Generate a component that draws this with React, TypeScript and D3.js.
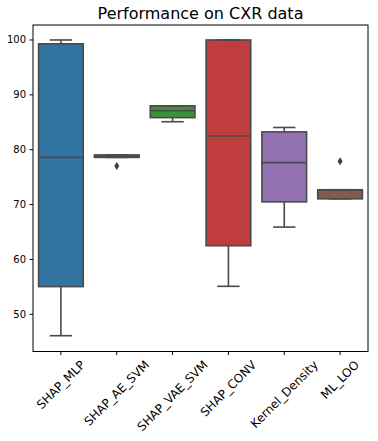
import React, { useEffect, useRef } from "react";
import * as d3 from "d3";

const categories = ["SHAP_MLP", "SHAP_AE_SVM", "SHAP_VAE_SVM", "SHAP_CONV", "Kernel_Density", "ML_LOO"];
const whiskerLow = [46.1, 78.6, 85.1, 55.1, 65.9, 71.05];
const q1 = [55.05, 78.6, 85.85, 62.5, 70.5, 71.05];
const median = [78.6, 78.8, 87.1, 82.5, 77.65, 72.7];
const q3 = [99.3, 79.05, 88.0, 100.0, 83.25, 72.7];
const whiskerHigh = [100.0, 79.05, 88.0, 100.0, 84.05, 72.7];
const outliers: number[][] = [[], [77.05], [], [], [], [77.9]];
const colors = ["#3274a1", "#e1812c", "#3a923a", "#c03d3e", "#9372b2", "#845b53"];
const yTicks = [50, 60, 70, 80, 90, 100];
const title = "Performance on CXR data";

export default function App() {
  const ref = useRef<SVGSVGElement>(null);
  useEffect(() => {
    const svg = d3.select(ref.current);
    svg.selectAll("*").remove();
    const L = 33, R = 368, T = 25, B = 351.5;
    const font = "DejaVu Sans, sans-serif";
    const x = d3.scaleBand<string>().domain(categories).range([L, R]).paddingInner(0).paddingOuter(0);
    const y = d3.scaleLinear().domain([43.22, 102.73]).range([B, T]);
    const bw = x.bandwidth() * 0.8;
    const line = "#4a4a4a";
    const sw = 1.6;

    svg.append("rect").attr("width", 378).attr("height", 441).attr("fill", "#fff");

    categories.forEach((c, i) => {
      const cx = x(c)! + x.bandwidth() / 2;
      const g = svg.append("g");
      g.append("line").attr("x1", cx).attr("x2", cx).attr("y1", y(q3[i])).attr("y2", y(whiskerHigh[i]))
        .attr("stroke", line).attr("stroke-width", sw);
      g.append("line").attr("x1", cx).attr("x2", cx).attr("y1", y(q1[i])).attr("y2", y(whiskerLow[i]))
        .attr("stroke", line).attr("stroke-width", sw);
      g.append("rect").attr("x", cx - bw / 2).attr("width", bw)
        .attr("y", y(q3[i])).attr("height", Math.max(0.5, y(q1[i]) - y(q3[i])))
        .attr("fill", colors[i]).attr("stroke", line).attr("stroke-width", sw);
      [whiskerHigh[i], whiskerLow[i]].forEach((v) => {
        g.append("line").attr("x1", cx - bw / 4).attr("x2", cx + bw / 4).attr("y1", y(v)).attr("y2", y(v))
          .attr("stroke", line).attr("stroke-width", sw);
      });
      g.append("line").attr("x1", cx - bw / 2).attr("x2", cx + bw / 2).attr("y1", y(median[i])).attr("y2", y(median[i]))
        .attr("stroke", line).attr("stroke-width", sw);
      outliers[i].forEach((v) => {
        const py = y(v);
        g.append("path").attr("d", `M${cx},${py - 4}L${cx + 2.5},${py}L${cx},${py + 4}L${cx - 2.5},${py}Z`)
          .attr("fill", "#3d3d3d");
      });
    });

    svg.append("rect").attr("x", L).attr("y", T).attr("width", R - L).attr("height", B - T)
      .attr("fill", "none").attr("stroke", "#000").attr("stroke-width", 1);

    yTicks.forEach((t) => {
      const py = y(t);
      svg.append("line").attr("x1", L - 3.5).attr("x2", L).attr("y1", py).attr("y2", py).attr("stroke", "#000");
      svg.append("text").attr("x", L - 7).attr("y", py).attr("dy", "0.35em").attr("text-anchor", "end")
        .attr("font-family", font).attr("font-size", 10).attr("fill", "#000").text(String(t));
    });

    categories.forEach((c) => {
      const cx = x(c)! + x.bandwidth() / 2;
      svg.append("line").attr("x1", cx).attr("x2", cx).attr("y1", B).attr("y2", B + 3.5).attr("stroke", "#000");
      const t = svg.append("text").attr("font-family", font).attr("font-size", 12).attr("fill", "#000")
        .attr("text-anchor", "middle").attr("dominant-baseline", "central").text(c);
      const w = (t.node() as SVGTextElement).getComputedTextLength();
      const h = 12;
      const bh = (w + h) * Math.SQRT1_2;
      const cy = B + 7 + bh / 2;
      t.attr("transform", `translate(${cx},${cy}) rotate(-45)`);
    });

    svg.append("text").attr("x", (L + R) / 2).attr("y", 19).attr("text-anchor", "middle")
      .attr("font-family", font).attr("font-size", 16).attr("fill", "#000").text(title);
  }, []);
  return (
    <svg ref={ref} width={378} height={441} style={{ position: "absolute", left: 0, top: 0 }} />
  );
}
